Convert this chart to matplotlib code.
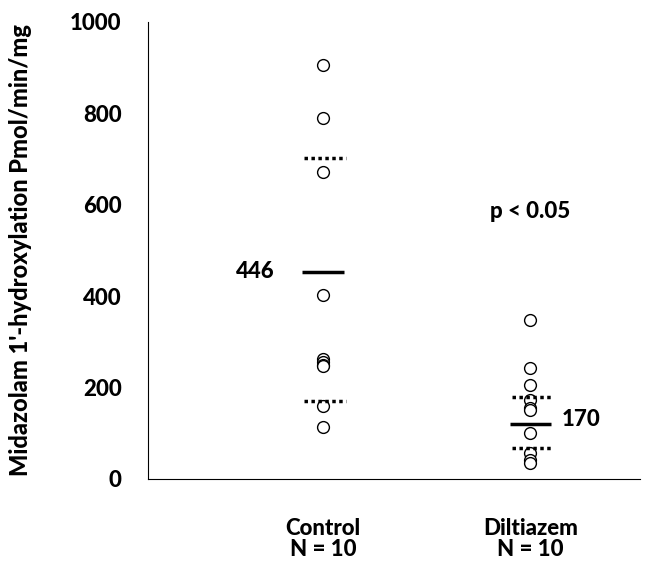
import matplotlib.pyplot as plt

groups = ["Control\nN = 10", "Diltiazem\nN = 10"]
control = [905, 790, 672, 403, 262, 255, 250, 248, 160, 113]
diltiazem = [348, 242, 205, 172, 155, 150, 100, 57, 42, 35]
means = [453, 120]
mean_labels = ["446", "170"]
upper = [702, 179]
lower = [170, 68]
yticks = [0, 200, 400, 600, 800, 1000]

plt.rcParams['font.family'] = ['Lato', 'DejaVu Sans']
plt.rcParams['font.weight'] = 900
W = 900

fig = plt.figure(figsize=(6.48, 5.62), dpi=100)
ax = fig.add_axes([0.2284, 0.1477, 0.7593, 0.8133])

xs = [1, 2]
for x, vals in zip(xs, [control, diltiazem]):
    ax.plot([x] * len(vals), vals, 'o', ms=8.5, mfc='white', mec='black', mew=1.0, ls='none')

hw = 0.1
for x, m, u, l in zip(xs, means, upper, lower):
    ax.hlines(m, x - hw, x + hw, colors='black', lw=2.5)
    ax.hlines([u, l], x - hw + 0.01, x + hw + 0.01, colors='black', lw=2.5, linestyles=(0, (1, 1)))

ax.text(xs[0] - 0.235, means[0], mean_labels[0], ha='right', va='center', fontsize=16, fontweight=W)
ax.text(xs[1] + 0.15, means[1] + 10, mean_labels[1], ha='left', va='center', fontsize=16, fontweight=W)
ax.text(2.0, 585, "p < 0.05", ha='center', va='center', fontsize=16, fontweight=W)

ax.set_xlim(0.155, 2.53)
ax.set_ylim(0, 1000)
ax.set_yticks(yticks)
ax.set_yticklabels([str(t) for t in yticks], fontsize=16, fontweight=W)
ax.set_xticks(xs)
ax.set_xticklabels(groups, fontsize=16, fontweight=W, linespacing=1.0)
ax.tick_params(axis='y', length=0, pad=19)
ax.tick_params(axis='x', length=0, pad=28)
ax.spines['top'].set_visible(False)
ax.spines['right'].set_visible(False)
ax.set_ylabel("Midazolam 1'-hydroxylation Pmol/min/mg", fontsize=17, fontweight=W)
ax.yaxis.set_label_coords(-0.235, 0.5)

fig.savefig("out.png", dpi=100)
